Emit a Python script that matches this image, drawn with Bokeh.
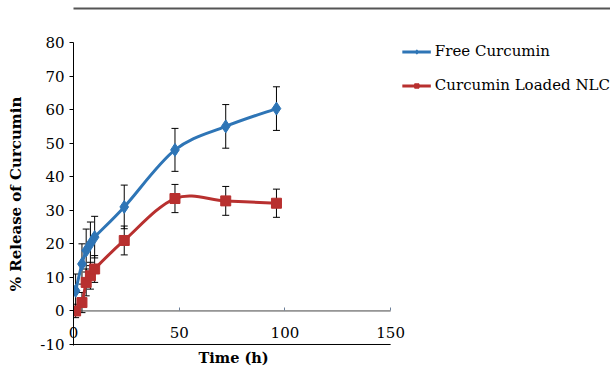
from bokeh.plotting import figure
from bokeh.models import (LinearAxis, FixedTicker, Whisker, TeeHead, ColumnDataSource,
                          Legend, LegendItem, Range1d, Title)
from bokeh.embed import file_html
from bokeh.resources import INLINE

# ---- data ----
time_h = [1, 4, 6, 8, 10, 24, 48, 72, 96]
free_curcumin = [6, 14, 18, 20, 22, 31, 48, 55, 60.3]
free_err = [5, 6, 6.4, 6.5, 6.2, 6.5, 6.4, 6.5, 6.5]
nlc_curcumin = [0, 2.5, 8.5, 10.5, 12.5, 21, 33.5, 32.8, 32.1]
nlc_err = [2, 3, 4, 4, 4, 4.3, 4.2, 4.3, 4.2]
x_ticks = [0, 50, 100, 150]
y_ticks = [-10, 0, 10, 20, 30, 40, 50, 60, 70, 80]
series_names = ["Free Curcumin", "Curcumin Loaded NLC"]

BLUE = "#2E75B6"
RED = "#B8302F"
FONT = "DejaVu Serif"


def smooth_segments(xs, ys):
    """Bezier control points for an Excel-like smoothed line through the data."""
    n = len(xs)
    out = dict(x0=[], y0=[], x1=[], y1=[], cx0=[], cy0=[], cx1=[], cy1=[])
    for i in range(n - 1):
        pm = i - 1 if i > 0 else i
        pp = i + 2 if i + 2 < n else i + 1
        out["x0"].append(xs[i]); out["y0"].append(ys[i])
        out["x1"].append(xs[i + 1]); out["y1"].append(ys[i + 1])
        out["cx0"].append(xs[i] + (xs[i + 1] - xs[pm]) / 6.0)
        out["cy0"].append(ys[i] + (ys[i + 1] - ys[pm]) / 6.0)
        out["cx1"].append(xs[i + 1] - (xs[pp] - xs[i]) / 6.0)
        out["cy1"].append(ys[i + 1] - (ys[pp] - ys[i]) / 6.0)
    return ColumnDataSource(out)


# the frame reaches the right edge so that the legend can sit inside it
p = figure(width=610, height=367, x_range=Range1d(0, 254), y_range=Range1d(-10.3, 80),
           output_backend="svg", toolbar_location=None,
           min_border_left=73, min_border_right=0, min_border_top=42, min_border_bottom=22)
p.outline_line_color = None
p.xgrid.visible = False
p.ygrid.visible = False
p.background_fill_color = "white"
p.border_fill_color = "white"

# y axis
ya = p.yaxis[0]
ya.ticker = FixedTicker(ticks=y_ticks)
ya.major_label_overrides = {-10: "-10"}
ya.minor_tick_line_color = None
ya.major_tick_in = 0
ya.major_tick_out = 4
ya.major_label_standoff = 5
ya.axis_line_color = "black"
ya.major_tick_line_color = "black"
ya.major_label_text_font = FONT
ya.major_label_text_font_size = "15px"
ya.major_label_text_color = "black"
ya.axis_label = "% Release of Curcumin"
ya.axis_label_text_font = FONT
ya.axis_label_text_font_style = "bold"
ya.axis_label_text_font_size = "15px"
ya.axis_label_text_color = "black"
ya.axis_label_standoff = 12

# bottom axis: tick labels placed above its position
xa = p.xaxis[0]
xa.ticker = FixedTicker(ticks=x_ticks)
xa.minor_tick_line_color = None
xa.major_tick_line_color = None
xa.major_tick_in = 0
xa.major_tick_out = 0
xa.axis_line_color = None
xa.major_label_standoff = -19
xa.major_label_text_font = FONT
xa.major_label_text_font_size = "15px"
xa.major_label_text_color = "black"

# small tick marks on the line crossing at y = 0
x0a = LinearAxis(fixed_location=0, ticker=FixedTicker(ticks=x_ticks[1:]))
x0a.minor_tick_line_color = None
x0a.major_tick_in = 3
x0a.major_tick_out = 0
x0a.major_tick_line_color = "#6b7f99"
x0a.axis_line_color = None
x0a.major_label_text_color = None
p.add_layout(x0a, "below")

# x-axis title, centred under the 0..150 span
p.add_layout(Title(text="Time (h)", align="left", offset=125, standoff=3,
                   text_font=FONT, text_font_style="bold", text_font_size="14.5px",
                   text_color="black"), "below")

# page rule at the top: spacer axis then a line-only axis
spacer = LinearAxis(ticker=FixedTicker(ticks=[0]), axis_line_color=None,
                    major_tick_line_color=None, major_tick_out=34, major_tick_in=0,
                    minor_tick_line_color=None, major_label_text_color=None,
                    major_label_text_font_size="1px", major_label_standoff=0)
p.add_layout(spacer, "above")
rule = LinearAxis(ticker=FixedTicker(ticks=[]), axis_line_color="#555555", axis_line_width=2,
                  major_tick_line_color=None, minor_tick_line_color=None,
                  major_label_text_color=None)
p.add_layout(rule, "above")

# axis lines of the plot area (x from first to last tick)
p.segment(x0=[x_ticks[0], x_ticks[0]], x1=[x_ticks[-1], x_ticks[-1]],
          y0=[y_ticks[0], 0], y1=[y_ticks[0], 0],
          line_color=["black", "#444444"], line_width=1)

src = ColumnDataSource(dict(t=time_h,
                            fu=[v + e for v, e in zip(free_curcumin, free_err)],
                            fl=[v - e for v, e in zip(free_curcumin, free_err)],
                            nu=[v + e for v, e in zip(nlc_curcumin, nlc_err)],
                            nl=[v - e for v, e in zip(nlc_curcumin, nlc_err)],
                            f=free_curcumin, n=nlc_curcumin))

for up, lo in (("fu", "fl"), ("nu", "nl")):
    p.add_layout(Whisker(source=src, base="t", upper=up, lower=lo,
                         line_color="black", line_width=1,
                         upper_head=TeeHead(size=7, line_color="black", line_width=1),
                         lower_head=TeeHead(size=7, line_color="black", line_width=1)))

bz_f = p.bezier(x0="x0", y0="y0", x1="x1", y1="y1", cx0="cx0", cy0="cy0", cx1="cx1", cy1="cy1",
                source=smooth_segments(time_h, free_curcumin), line_color=BLUE, line_width=3)
sc_f = p.scatter("t", "f", source=src, marker="diamond", size=13, fill_color=BLUE, line_color=BLUE)
bz_n = p.bezier(x0="x0", y0="y0", x1="x1", y1="y1", cx0="cx0", cy0="cy0", cx1="cx1", cy1="cy1",
                source=smooth_segments(time_h, nlc_curcumin), line_color=RED, line_width=3)
sc_n = p.scatter("t", "n", source=src, marker="square", size=10, fill_color=RED, line_color=RED)

legend = Legend(items=[LegendItem(label=series_names[0], renderers=[bz_f, sc_f]),
                       LegendItem(label=series_names[1], renderers=[bz_n, sc_n])],
                location="top_right", orientation="vertical",
                glyph_width=29, glyph_height=11, label_height=11, spacing=16,
                padding=0, margin=0, label_standoff=4,
                label_text_font=FONT, label_text_font_size="15px", label_text_color="black",
                border_line_color=None, background_fill_alpha=0)
p.add_layout(legend, "center")

open("out.html", "w").write(file_html(p, INLINE))
